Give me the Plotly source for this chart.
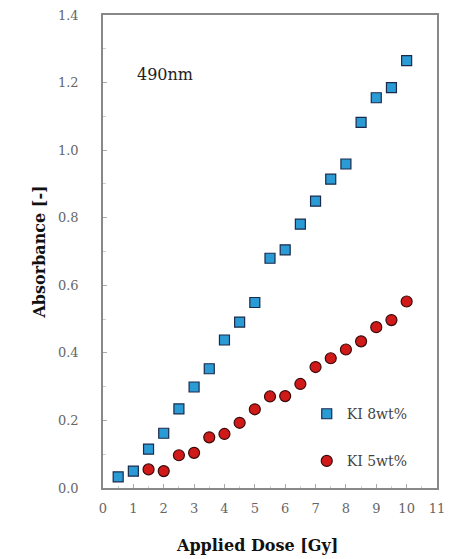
import plotly.graph_objects as go

dose_8 = [0.5, 1, 1.5, 2, 2.5, 3, 3.5, 4, 4.5, 5, 5.5, 6, 6.5, 7, 7.5, 8, 8.5, 9, 9.5, 10]
abs_8 = [0.033, 0.050, 0.115, 0.162, 0.234, 0.299, 0.353, 0.438, 0.491, 0.549,
         0.680, 0.705, 0.781, 0.849, 0.914, 0.959, 1.082, 1.155, 1.185, 1.265]
dose_5 = [1.5, 2, 2.5, 3, 3.5, 4, 4.5, 5, 5.5, 6, 6.5, 7, 7.5, 8, 8.5, 9, 9.5, 10]
abs_5 = [0.055, 0.050, 0.097, 0.104, 0.150, 0.160, 0.193, 0.233, 0.271, 0.272,
         0.308, 0.358, 0.384, 0.410, 0.434, 0.476, 0.497, 0.552]

x_ticks = list(range(0, 12))
y_ticks = [0.0, 0.2, 0.4, 0.6, 0.8, 1.0, 1.2, 1.4]
y_tick_text = ["0.0", "0.2", "0.4", "0.6", "0.8", "1.0", "1.2", "1.4"]

serif = "DejaVu Serif, serif"

fig = go.Figure()
fig.add_trace(go.Scatter(
    x=dose_8, y=abs_8, mode="markers", name="KI 8wt%", legendgroup="a",
    marker=dict(symbol="square", size=10, color="#2b9bd6",
                line=dict(color="#1a2a4a", width=1.2)),
))
fig.add_trace(go.Scatter(
    x=dose_5, y=abs_5, mode="markers", name="KI 5wt%", legendgroup="b",
    marker=dict(symbol="circle", size=11, color="#d01a1a",
                line=dict(color="#3a0a0a", width=1.2)),
))

fig.add_annotation(
    x=0.095, y=0.875, xref="paper", yref="paper", text="490nm",
    showarrow=False, xanchor="left", yanchor="middle",
    font=dict(family=serif, size=16, color="#222222"),
)

fig.add_annotation(
    x=0.46, y=-0.122, xref="paper", yref="paper",
    text="<b>Applied Dose [Gy]</b>",
    showarrow=False, xanchor="center", yanchor="middle",
    font=dict(family=serif, size=16, color="#111111"),
)

# the page body has an 8px margin; the figure is sized so the plot lands where the reference has it
fig.update_layout(
    width=447, height=551,
    margin=dict(l=95, r=18, t=7, b=71),
    paper_bgcolor="white", plot_bgcolor="white",
    font=dict(family=serif, color="#222222"),
    showlegend=True,
    legend=dict(
        x=0.61, y=0.19, xanchor="left", yanchor="top",
        bgcolor="rgba(0,0,0,0)", borderwidth=0,
        font=dict(family=serif, size=14, color="#444444"),
        tracegroupgap=26, itemwidth=30,
    ),
    xaxis=dict(
        range=[0, 11], tickvals=x_ticks, ticktext=[str(v) for v in x_ticks],
        showgrid=False, zeroline=False, automargin=False,
        showline=True, linecolor="#888888", linewidth=1.5, mirror=True,
        ticks="inside", ticklen=4, tickcolor="#aaaaaa",
        minor=dict(dtick=0.5, ticks="inside", ticklen=2, tickcolor="#cccccc"),
        tickfont=dict(family=serif, size=13, color="#666666"),
        ticklabeloverflow="allow",
        ticklabelstandoff=8,
    ),
    yaxis=dict(
        range=[0, 1.4], tickvals=y_ticks, ticktext=y_tick_text,
        showgrid=False, zeroline=False, automargin=False,
        showline=True, linecolor="#888888", linewidth=1.5, mirror=True,
        ticks="inside", ticklen=4, tickcolor="#aaaaaa",
        minor=dict(dtick=0.1, ticks="inside", ticklen=3, tickcolor="#cccccc"),
        tickfont=dict(family=serif, size=13, color="#666666"),
        ticklabeloverflow="allow",
        ticklabelstandoff=20,
        title=dict(text="<b>Absorbance [-]</b>", standoff=8,
                   font=dict(family=serif, size=16, color="#111111")),
    ),
)

fig.write_html("out.html")
